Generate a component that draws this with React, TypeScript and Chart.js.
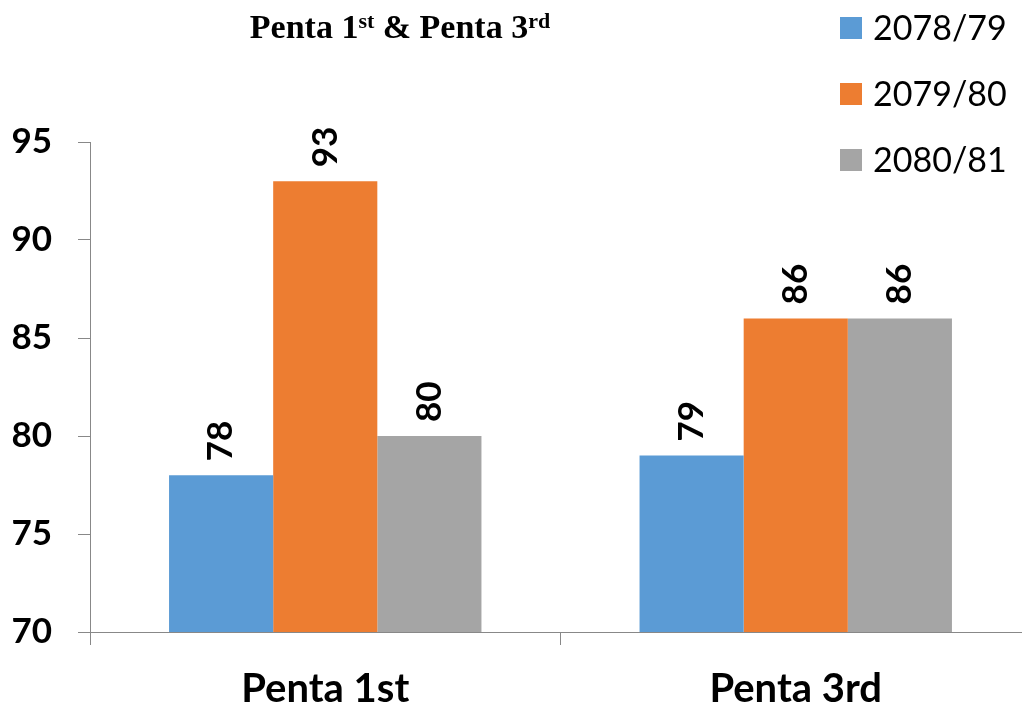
import React, { useEffect, useRef } from "react";
import { Chart, registerables } from "chart.js";

Chart.register(...registerables);

const categories = ["Penta 1st", "Penta 3rd"];
const seriesLabels = ["2078/79", "2079/80", "2080/81"];
const series2078 = [78, 79];
const series2079 = [93, 86];
const series2080 = [80, 86];
const yTicks = [70, 75, 80, 85, 90, 95];
const colors = ["#5B9BD5", "#ED7D31", "#A5A5A5"];
const titleParts = [
  { text: "Penta 1", sup: false },
  { text: "st", sup: true },
  { text: " & Penta 3", sup: false },
  { text: "rd", sup: true },
];

const valueLabelPlugin = {
  id: "valueLabels",
  afterDatasetsDraw(chart: any) {
    const ctx = chart.ctx;
    ctx.save();
    ctx.fillStyle = "#000";
    ctx.font = "bold 35px Lato";
    chart.data.datasets.forEach((ds: any, di: number) => {
      const meta = chart.getDatasetMeta(di);
      meta.data.forEach((el: any, i: number) => {
        ctx.save();
        ctx.translate(el.x, el.y - 14);
        ctx.rotate(-Math.PI / 2);
        ctx.textAlign = "left";
        ctx.textBaseline = "middle";
        ctx.fillText(String(ds.data[i]), 0, 0);
        ctx.restore();
      });
    });
    ctx.restore();
  },
};

const decorPlugin = {
  id: "decor",
  afterDraw(chart: any) {
    const ctx = chart.ctx;
    ctx.save();
    // legend
    chart.data.datasets.forEach((ds: any, i: number) => {
      const cy = 28 + 66 * i;
      ctx.fillStyle = ds.backgroundColor;
      ctx.fillRect(840, cy - 11, 22, 22);
      ctx.fillStyle = "#000";
      ctx.font = "34px Lato";
      ctx.textAlign = "left";
      ctx.textBaseline = "middle";
      ctx.fillText(ds.label, 873, cy + 1);
    });
    // title with superscripts
    const mainFont = "bold 34px 'Liberation Serif'";
    const supFont = "bold 22px 'Liberation Serif'";
    let total = 0;
    titleParts.forEach((p) => {
      ctx.font = p.sup ? supFont : mainFont;
      total += ctx.measureText(p.text).width;
    });
    let x = 400 - total / 2;
    ctx.textAlign = "left";
    ctx.textBaseline = "alphabetic";
    ctx.fillStyle = "#000";
    titleParts.forEach((p) => {
      ctx.font = p.sup ? supFont : mainFont;
      ctx.fillText(p.text, x, p.sup ? 28 : 38);
      x += ctx.measureText(p.text).width;
    });
    ctx.restore();
  },
};

export default function App() {
  const ref = useRef<HTMLCanvasElement>(null);
  useEffect(() => {
    if (!ref.current) return;
    const chart = new Chart(ref.current, {
      type: "bar",
      data: {
        labels: categories,
        datasets: [
          { label: seriesLabels[0], data: series2078, backgroundColor: colors[0] },
          { label: seriesLabels[1], data: series2079, backgroundColor: colors[1] },
          { label: seriesLabels[2], data: series2080, backgroundColor: colors[2] },
        ],
      },
      options: {
        animation: false,
        responsive: false,
        devicePixelRatio: 1,
        layout: { padding: { top: 142, right: 9, left: 0, bottom: 0 } },
        datasets: { bar: { categoryPercentage: 0.664, barPercentage: 1 } },
        plugins: { legend: { display: false }, title: { display: false }, tooltip: { enabled: false } },
        scales: {
          x: {
            grid: { drawOnChartArea: false, drawTicks: true, tickLength: 13, color: "#888", offset: true },
            border: { display: true, color: "#888", width: 1 },
            ticks: { color: "#000", font: { family: "Lato", size: 40, weight: "bold" }, padding: 20 },
            afterFit: (s: any) => { s.height = 75; },
          },
          y: {
            min: 70,
            max: 95,
            afterBuildTicks: (s: any) => { s.ticks = yTicks.map((v) => ({ value: v })); },
            grid: { drawOnChartArea: false, drawTicks: true, tickLength: 12, color: "#888" },
            border: { display: true, color: "#888", width: 1 },
            ticks: { color: "#000", font: { family: "Lato", size: 35, weight: "bold" }, padding: 26 },
            afterFit: (s: any) => { s.width = 90; },
          },
        },
      },
      plugins: [valueLabelPlugin, decorPlugin],
    });
    return () => chart.destroy();
  }, []);
  return (
    <div style={{ position: "fixed", left: 0, top: 0, width: 1022, height: 707, overflow: "hidden", background: "#fff" }}>
      <canvas ref={ref} width={1040} height={707} style={{ display: "block" }} />
    </div>
  );
}
